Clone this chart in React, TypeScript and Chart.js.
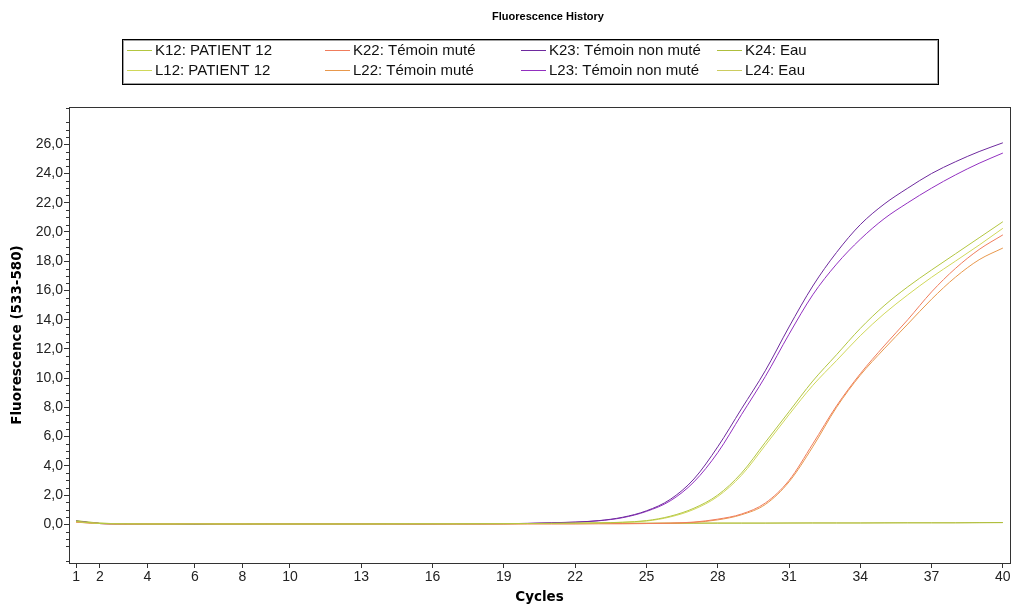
import React, { useEffect, useRef } from 'react';
import { Chart, registerables } from 'chart.js';

Chart.register(...registerables);

const cycles = [1, 2, 3, 4, 5, 6, 7, 8, 9, 10, 11, 12, 13, 14, 15, 16, 17, 18, 19, 20, 21, 22, 23, 24, 25, 26, 27, 28, 29, 30, 31, 32, 33, 34, 35, 36, 37, 38, 39, 40];

const K12 = [0.2, 0.06, 0.03, 0.02, 0.02, 0.02, 0.02, 0.02, 0.02, 0.02, 0.02, 0.02, 0.02, 0.03, 0.03, 0.03, 0.03, 0.04, 0.04, 0.05, 0.06, 0.08, 0.1, 0.14, 0.25, 0.55, 1.1, 2.0, 3.5, 5.6, 7.7, 9.8, 11.6, 13.4, 14.95, 16.25, 17.4, 18.5, 19.6, 20.7];
const L12 = [0.18, 0.05, 0.03, 0.02, 0.02, 0.02, 0.02, 0.02, 0.02, 0.02, 0.02, 0.02, 0.02, 0.02, 0.03, 0.03, 0.03, 0.03, 0.04, 0.05, 0.06, 0.07, 0.09, 0.13, 0.22, 0.5, 1.02, 1.9, 3.35, 5.4, 7.5, 9.5, 11.2, 12.9, 14.4, 15.7, 16.9, 18.0, 19.1, 20.25];
const K22 = [0.15, 0.05, 0.02, 0.02, 0.02, 0.04, 0.02, 0.02, 0.02, 0.02, 0.02, 0.02, 0.02, 0.02, 0.02, 0.02, 0.02, 0.02, 0.02, 0.03, 0.03, 0.03, 0.04, 0.04, 0.05, 0.08, 0.15, 0.35, 0.7, 1.45, 3.0, 5.5, 8.1, 10.3, 12.2, 14.0, 15.9, 17.5, 18.8, 19.8];
const L22 = [0.14, 0.05, 0.02, 0.02, 0.02, 0.04, 0.02, 0.02, 0.02, 0.02, 0.02, 0.02, 0.02, 0.02, 0.02, 0.02, 0.02, 0.02, 0.02, 0.03, 0.03, 0.03, 0.04, 0.04, 0.05, 0.07, 0.13, 0.3, 0.65, 1.35, 2.9, 5.3, 8.0, 10.2, 12.0, 13.7, 15.4, 16.9, 18.1, 18.9];
const K23 = [0.22, 0.05, 0.02, 0.0, 0.0, 0.0, 0.0, 0.0, 0.02, 0.02, 0.02, 0.02, 0.02, 0.02, 0.02, 0.02, 0.03, 0.03, 0.04, 0.06, 0.1, 0.15, 0.25, 0.48, 0.92, 1.7, 3.1, 5.3, 7.9, 10.5, 13.5, 16.3, 18.6, 20.5, 21.9, 23.0, 24.0, 24.8, 25.5, 26.1];
const L23 = [0.2, 0.05, 0.02, 0.0, 0.0, 0.0, 0.0, 0.0, 0.02, 0.02, 0.02, 0.02, 0.02, 0.02, 0.02, 0.02, 0.03, 0.03, 0.04, 0.06, 0.1, 0.14, 0.24, 0.45, 0.88, 1.6, 2.9, 4.9, 7.5, 10.1, 13.0, 15.7, 17.8, 19.5, 20.9, 22.0, 23.0, 23.9, 24.7, 25.4];
const K24 = [0.25, 0.08, 0.04, 0.03, 0.03, 0.03, 0.03, 0.03, 0.03, 0.04, 0.04, 0.04, 0.04, 0.04, 0.04, 0.05, 0.05, 0.05, 0.05, 0.05, 0.06, 0.06, 0.06, 0.07, 0.07, 0.07, 0.08, 0.08, 0.08, 0.08, 0.09, 0.09, 0.09, 0.09, 0.1, 0.1, 0.1, 0.1, 0.11, 0.12];
const L24 = [0.23, 0.07, 0.04, 0.03, 0.03, 0.03, 0.03, 0.03, 0.03, 0.03, 0.04, 0.04, 0.04, 0.04, 0.04, 0.04, 0.05, 0.05, 0.05, 0.05, 0.05, 0.06, 0.06, 0.06, 0.07, 0.07, 0.07, 0.08, 0.08, 0.08, 0.08, 0.09, 0.09, 0.09, 0.09, 0.1, 0.1, 0.1, 0.11, 0.11];

const seriesLabels = [
  'K12: PATIENT 12',
  'L12: PATIENT 12',
  'K22: Témoin muté',
  'L22: Témoin muté',
  'K23: Témoin non muté',
  'L23: Témoin non muté',
  'K24: Eau',
  'L24: Eau',
];
const seriesValues = [K12, L12, K22, L22, K23, L23, K24, L24];
const seriesColors = ['#b3c640', '#d0d85a', '#f07c5c', '#e8984c', '#6e2a9e', '#9230c0', '#aebe3c', '#cccc60'];

const xTicks = [1, 2, 4, 6, 8, 10, 13, 16, 19, 22, 25, 28, 31, 34, 37, 40];
const yTicks = [0, 2, 4, 6, 8, 10, 12, 14, 16, 18, 20, 22, 24, 26];

const chartTitle = 'Fluorescence History';
const xTitle = 'Cycles';
const yTitle = 'Fluorescence (533-580)';

const AXIS_COLOR = '#333333';

const framePlugin = {
  id: 'frameAndMinor',
  afterDraw(chart: any) {
    const { ctx, chartArea } = chart;
    const y = chart.scales.y;
    ctx.save();
    ctx.strokeStyle = AXIS_COLOR;
    ctx.lineWidth = 1;
    ctx.strokeRect(Math.round(chartArea.left) + 0.5, Math.round(chartArea.top) + 0.5, Math.round(chartArea.width), Math.round(chartArea.height));
    ctx.beginPath();
    for (let v = Math.ceil(y.min * 2) / 2; v <= y.max; v += 0.5) {
      if (Math.abs(v % 2) < 1e-6) continue;
      const py = Math.round(y.getPixelForValue(v)) + 0.5;
      ctx.moveTo(chartArea.left - 3, py);
      ctx.lineTo(chartArea.left, py);
    }
    ctx.stroke();
    ctx.restore();
  },
};

const headerPlugin = {
  id: 'headerAndLegend',
  afterDraw(chart: any) {
    const { ctx } = chart;
    ctx.save();
    // title
    ctx.fillStyle = '#000';
    ctx.font = 'bold 11px "Liberation Sans", Arial, sans-serif';
    ctx.textAlign = 'center';
    ctx.textBaseline = 'middle';
    ctx.fillText(chartTitle, 548, 17);
    // legend box
    const colX = [127, 325, 521, 717];
    const rowY = [50, 70];
    ctx.lineWidth = 1;
    ctx.strokeStyle = '#000';
    ctx.strokeRect(122.5, 39.5, 816, 45);
    ctx.strokeStyle = '#a0a0a0';
    ctx.strokeRect(123.5, 40.5, 814, 43);
    ctx.font = '15px "Liberation Sans", Arial, sans-serif';
    ctx.textAlign = 'left';
    chart.data.datasets.forEach((ds: any, i: number) => {
      const x = colX[Math.floor(i / 2)];
      const y = rowY[i % 2];
      ctx.strokeStyle = ds.borderColor;
      ctx.beginPath();
      ctx.moveTo(x, y + 0.5);
      ctx.lineTo(x + 25, y + 0.5);
      ctx.stroke();
      ctx.fillStyle = '#111';
      ctx.fillText(ds.label, x + 28, y + 1);
    });
    ctx.restore();
  },
};

export default function App() {
  const ref = useRef<HTMLCanvasElement | null>(null);

  useEffect(() => {
    if (!ref.current) return;
    const chart = new Chart(ref.current, {
      type: 'line',
      data: {
        labels: cycles,
        datasets: seriesValues.map((vals, i) => ({
          label: seriesLabels[i],
          data: vals,
          borderColor: seriesColors[i],
          backgroundColor: seriesColors[i],
          borderWidth: 1,
          pointRadius: 0,
          cubicInterpolationMode: 'monotone' as const,
          fill: false,
        })),
      },
      options: {
        animation: false,
        responsive: true,
        maintainAspectRatio: false,
        events: [],
        layout: { padding: { top: 107, right: 5, bottom: 0, left: 0 } },
        plugins: {
          legend: { display: false },
          tooltip: { enabled: false },
          title: { display: false },
        },
        scales: {
          x: {
            type: 'linear',
            min: 0.7,
            max: 40.3,
            afterBuildTicks: (s: any) => {
              s.ticks = xTicks.map((v) => ({ value: v }));
            },
            afterFit: (s: any) => {
              s.height = 47;
            },
            ticks: {
              autoSkip: false,
              maxRotation: 0,
              padding: 1,
              color: '#222',
              font: { family: '"Liberation Sans", Arial, sans-serif', size: 14 },
              callback: (v: any) => String(v),
            },
            grid: { display: true, drawOnChartArea: false, drawTicks: true, tickLength: 5, tickColor: AXIS_COLOR, color: AXIS_COLOR },
            border: { display: true, color: AXIS_COLOR },
            title: {
              display: true,
              text: xTitle,
              color: '#000',
              font: { family: '"DejaVu Sans", sans-serif', size: 13.5, weight: 'bold' },
              padding: { top: 0, bottom: 4 },
            },
          },
          y: {
            type: 'linear',
            min: -2.65,
            max: 28.55,
            afterBuildTicks: (s: any) => {
              s.ticks = yTicks.map((v) => ({ value: v }));
            },
            afterFit: (s: any) => {
              s.width = 69;
            },
            ticks: {
              autoSkip: false,
              padding: 1,
              color: '#222',
              font: { family: '"Liberation Sans", Arial, sans-serif', size: 14 },
              callback: (v: any) => Number(v).toFixed(1).replace('.', ','),
            },
            grid: { display: true, drawOnChartArea: false, drawTicks: true, tickLength: 5, tickColor: AXIS_COLOR, color: AXIS_COLOR },
            border: { display: true, color: AXIS_COLOR },
            title: {
              display: true,
              text: yTitle,
              color: '#000',
              font: { family: '"DejaVu Sans", sans-serif', size: 13.5, weight: 'bold' },
              padding: { top: 9, bottom: 0 },
            },
          },
        },
      },
      plugins: [framePlugin, headerPlugin],
    });
    return () => chart.destroy();
  }, []);

  return (
    <div style={{ position: 'fixed', left: 0, top: 0, width: 1015, height: 610, background: '#fff' }}>
      <canvas ref={ref} />
    </div>
  );
}
